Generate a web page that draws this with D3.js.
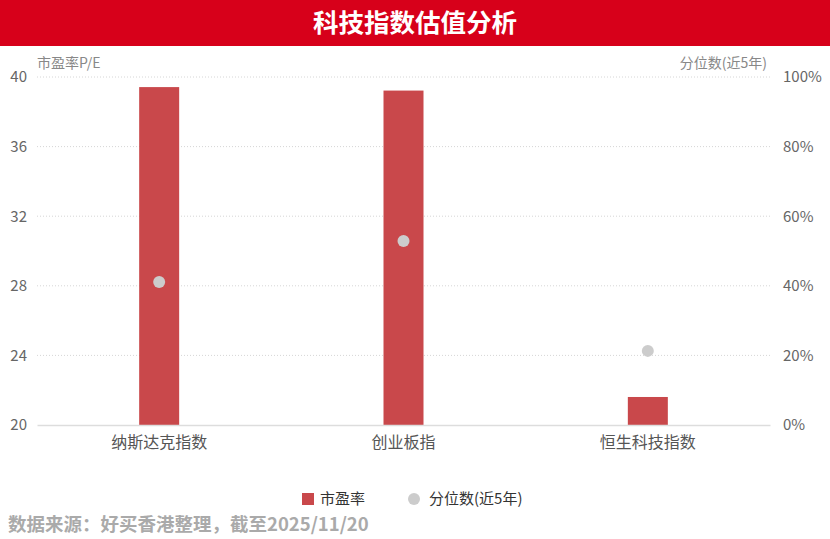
<!DOCTYPE html>
<html>
<head>
<meta charset="utf-8">
<script src="https://cdn.jsdelivr.net/npm/d3@7"></script>
<style>
  body { margin: 0; background: #fff; }
  text { font-family: "Microsoft YaHei", "Noto Sans CJK SC", sans-serif; }
</style>
</head>
<body>
<div id="chart"></div>
<script>
var categories = ["纳斯达克指数", "创业板指", "恒生科技指数"];
var peValues = [39.42, 39.22, 21.61];
var pctValues = [41.1, 52.9, 21.3];
var leftTicks = [20, 24, 28, 32, 36, 40];
var rightTicks = [0, 20, 40, 60, 80, 100];

var width = 830, height = 539;
var margin = { top: 77, right: 60, bottom: 114, left: 37 };
var plotW = width - margin.left - margin.right;
var plotH = height - margin.top - margin.bottom;

var svg = d3.select("#chart").append("svg")
    .attr("width", width)
    .attr("height", height);

// header band
svg.append("rect")
    .attr("x", 0).attr("y", 0)
    .attr("width", width).attr("height", 46)
    .attr("fill", "#d7001a");
svg.append("text")
    .attr("x", width / 2).attr("y", 23)
    .attr("dy", "0.35em")
    .attr("text-anchor", "middle")
    .attr("fill", "#fff")
    .style("font-size", "25.5px")
    .style("font-weight", "bold")
    .text("科技指数估值分析");

var g = svg.append("g")
    .attr("transform", "translate(" + margin.left + "," + margin.top + ")");

var x = d3.scaleBand().domain(categories).range([0, plotW]);
var yL = d3.scaleLinear().domain([20, 40]).range([plotH, 0]);
var yR = d3.scaleLinear().domain([0, 100]).range([plotH, 0]);

// gridlines
g.selectAll(".grid")
    .data(leftTicks.filter(function (d) { return d > 20; }))
    .enter().append("line")
    .attr("x1", 0).attr("x2", plotW)
    .attr("y1", function (d) { return yL(d); })
    .attr("y2", function (d) { return yL(d); })
    .attr("stroke", "#d6d6d6")
    .attr("stroke-dasharray", "1,2");

// left axis
var leftAxis = d3.axisLeft(yL).tickValues(leftTicks).tickSize(0).tickPadding(10);
g.append("g").call(leftAxis)
    .call(function (s) { s.select(".domain").remove(); })
    .selectAll("text")
    .attr("fill", "#666")
    .style("font-size", "15px");

// right axis
var rightAxis = d3.axisRight(yR).tickValues(rightTicks).tickSize(0).tickPadding(13)
    .tickFormat(function (d) { return d + "%"; });
g.append("g").attr("transform", "translate(" + plotW + ",0)").call(rightAxis)
    .call(function (s) { s.select(".domain").remove(); })
    .selectAll("text")
    .attr("fill", "#666")
    .style("font-size", "15px");

// bars
var barW = 40;
g.selectAll(".bar")
    .data(categories)
    .enter().append("rect")
    .attr("x", function (d) { return x(d) + x.bandwidth() / 2 - barW / 2; })
    .attr("y", function (d, i) { return yL(peValues[i]); })
    .attr("width", barW)
    .attr("height", function (d, i) { return plotH - yL(peValues[i]); })
    .attr("fill", "#c9484b");

// bottom axis
var bottomAxis = d3.axisBottom(x).tickSize(0).tickPadding(12);
var bx = g.append("g").attr("transform", "translate(0," + plotH + ")").call(bottomAxis);
bx.select(".domain").attr("stroke", "#ddd").attr("stroke-width", 1.5);
bx.selectAll("text").attr("fill", "#555").style("font-size", "16px");

// percentile points
g.selectAll(".dot")
    .data(categories)
    .enter().append("circle")
    .attr("cx", function (d) { return x(d) + x.bandwidth() / 2; })
    .attr("cy", function (d, i) { return yR(pctValues[i]); })
    .attr("r", 6)
    .attr("fill", "#cccccc");

// axis titles
svg.append("text")
    .attr("x", 37).attr("y", 68)
    .attr("fill", "#888")
    .style("font-size", "14px")
    .text("市盈率P/E");
svg.append("text")
    .attr("x", 767).attr("y", 68)
    .attr("text-anchor", "end")
    .attr("fill", "#888")
    .style("font-size", "14px")
    .text("分位数(近5年)");

// legend
var legend = svg.append("g").attr("transform", "translate(302,499)");
legend.append("rect")
    .attr("x", 0).attr("y", -6)
    .attr("width", 12).attr("height", 12)
    .attr("fill", "#c9484b");
legend.append("text")
    .attr("x", 18).attr("dy", "0.35em")
    .attr("fill", "#333")
    .style("font-size", "15px")
    .text("市盈率");
legend.append("circle")
    .attr("cx", 112).attr("cy", 0)
    .attr("r", 6)
    .attr("fill", "#ccc");
legend.append("text")
    .attr("x", 127).attr("dy", "0.35em")
    .attr("fill", "#333")
    .style("font-size", "15px")
    .text("分位数(近5年)");

// source
svg.append("text")
    .attr("x", 8).attr("y", 531)
    .attr("fill", "#aaa")
    .style("font-size", "18.5px")
    .style("font-weight", "bold")
    .text("数据来源：好买香港整理，截至2025/11/20");
</script>
</body>
</html>
